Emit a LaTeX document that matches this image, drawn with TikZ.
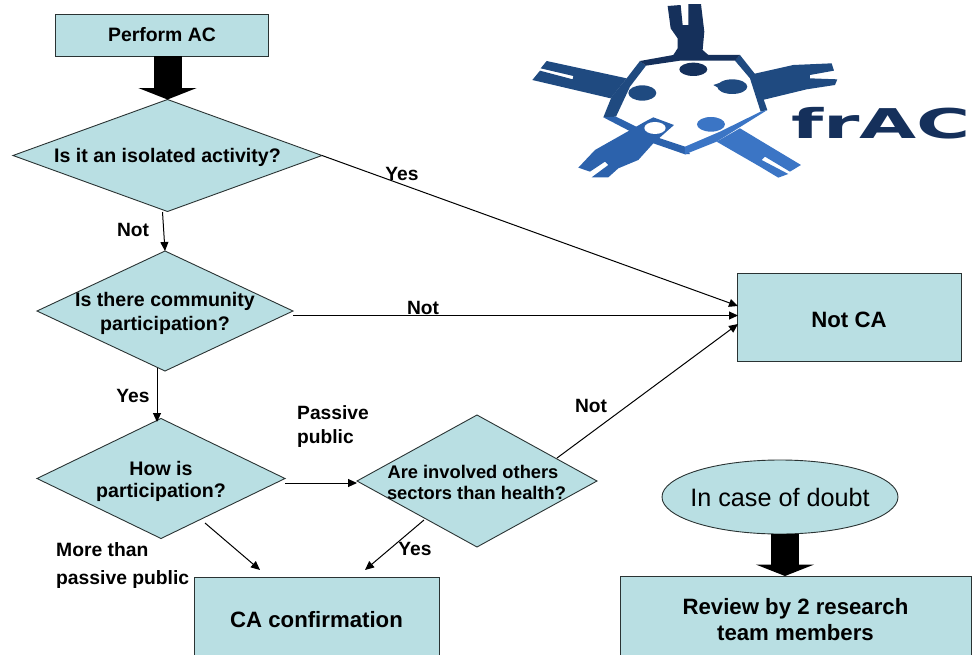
\documentclass[tikz,border=0pt]{standalone}
\usepackage{fontspec}
\setmainfont{Liberation Sans}
\newfontfamily\logofont{DejaVu Sans}
\usetikzlibrary{shapes.geometric,arrows.meta}
\definecolor{boxfill}{HTML}{B9DFE3}
\definecolor{edgecol}{HTML}{2A3333}
\definecolor{logodark}{HTML}{15305B}
\definecolor{logomid}{HTML}{1F4A80}
\definecolor{logoblue}{HTML}{2C62AC}
\definecolor{logolight}{HTML}{3B75C5}
\tikzset{
  x=1pt,y=-1pt,
  flowbox/.style={draw=edgecol,line width=1pt,fill=boxfill,rectangle,inner sep=0pt,outer sep=0pt,align=center,font=\bfseries\fontsize{22.2}{26}\selectfont},
  flowdia/.style={draw=edgecol,line width=.9pt,fill=boxfill,diamond,inner sep=0pt,outer sep=0pt},
  flowell/.style={draw=edgecol,line width=.9pt,fill=boxfill,ellipse,inner sep=0pt,outer sep=0pt},
  diatext/.style={inner sep=0pt,align=center,font=\bfseries\fontsize{#1}{24}\selectfont},
  diatext/.default=19.6,
  lab/.style={inner sep=0pt,align=left,font=\bfseries\fontsize{19.2}{24}\selectfont},
  conn/.style={draw=black,line width=1pt,-{Triangle[length=9pt,width=8pt]}},
  fatarrow/.style={draw=black,line width=28pt,-{Triangle[length=11.5pt,width=58pt]}},
}
\begin{document}
\begin{tikzpicture}
\useasboundingbox (0,0) rectangle (978,654);
\clip (0,0) rectangle (978,654);
% logo
\begin{scope}[xshift=520pt,x=.3333pt,y=-.3333pt]
\fill[logodark] (443,18)--(482,15)--(488,75)--(505,75)--(505,12)--(543,12)--(553,95)--(548,150)--(565,165)--(460,165)--(473,145)--(473,115)--(452,85)--cycle;
\fill[logomid] (80,183)--(320,235)--(272,295)--(37,240)--(60,212)--(158,238)--(160,228)--(62,205)--cycle;
\fill[logomid] (700,222)--(820,195)--(935,190)--(942,212)--(870,225)--(870,235)--(952,238)--(945,255)--(860,268)--(728,300)--cycle;
\fill[logomid] (360,183)--(378,197)--(330,260)--(288,350)--(250,352)--(275,290)--(320,235)--cycle;
\fill[logomid] (660,165)--(705,222)--(742,330)--(722,335)--(690,235)--(645,182)--cycle;
\fill[logodark] (360,183)--(460,165)--(660,165)--(645,182)--(480,182)--(378,197)--cycle;
\fill[logoblue] (250,352)--(288,350)--(420,415)--(495,440)--(510,462)--(495,463)--(400,430)--cycle;
\fill[logolight] (495,440)--(600,395)--(722,335)--(742,330)--(590,425)--(495,463)--cycle;
\fill[logoblue] (375,365)--(400,352)--(462,375)--(400,430)--(355,480)--(295,505)--(265,532)--(215,532)--(265,495)--(255,485)--(210,515)--(175,503)--(225,450)--(340,385)--cycle;
\fill[white] (405,384) ellipse [x radius=32,y radius=18];
\fill[logolight] (590,425)--(660,385)--(843,495)--(810,515)--(735,470)--(725,480)--(805,522)--(775,533)--(720,500)--cycle;
\fill[logodark] (520,208) ellipse [x radius=42,y radius=20];
\fill[logomid] (367,279) ellipse [x radius=42,y radius=23];
\fill[logomid] (637,260) ellipse [x radius=45,y radius=22];
\fill[logomid] (580,255)--(610,245)--(625,280)--cycle;
\fill[logolight] (573,373) ellipse [x radius=42,y radius=22];
\end{scope}
\node[inner sep=0pt,text=logodark,font=\logofont\bfseries\fontsize{41}{41}\selectfont,xscale=1.8,transform shape] (fractext) at (881,123) {frAC};
% nodes
\node[flowbox,minimum width=213,minimum height=42,font=\bfseries\fontsize{19.4}{23}\selectfont] (perform) at (162,35) {Perform AC};
\node[flowdia,minimum width=309,minimum height=112] (d1) at (167.5,155.5) {};
\node[diatext] (d1t) at (167.5,157) {Is it an isolated activity?};
\node[flowdia,minimum width=256,minimum height=120] (d2) at (165,311) {};
\node[diatext] (d2t) at (165,313) {Is there community\\participation?};
\node[flowdia,minimum width=248,minimum height=120] (d3) at (161,478.5) {};
\node[diatext] (d3t) at (161,481) {How is\\[-2pt]participation?};
\node[flowdia,minimum width=240,minimum height=132] (d4) at (477,481) {};
\node[diatext=18.3] (d4t) at (476.5,482) {Are involved others\hspace*{7pt}\\[-3pt]sectors than health?};
\node[flowbox,minimum width=224,minimum height=88] (notca) at (849,317) {\raisebox{-10pt}[0pt][0pt]{Not CA}};
\node[flowbox,minimum width=245,minimum height=86] (caconf) at (316.5,620) {CA confirmation};
\node[flowell,minimum width=236,minimum height=74] (doubt) at (780,497) {};
\node[inner sep=0pt,font=\fontsize{25.2}{30}\selectfont] (doubtt) at (780,497.5) {In case of doubt};
\node[flowbox,minimum width=351,minimum height=88] (review) at (795.5,620) {Review by 2 research\\team members};
% labels
\node[lab] (lyes1) at (402,174) {Yes};
\node[lab] (lnot1) at (133,230) {Not};
\node[lab] (lnot2) at (423,308) {Not};
\node[lab] (lyes2) at (133,396) {Yes};
\node[lab,anchor=west] (lpass) at (297,426.5) {Passive\\public};
\node[lab] (lnot3) at (591,406) {Not};
\node[lab] (lyes3) at (415,549) {Yes};
\node[lab,anchor=west,font=\bfseries\fontsize{19.3}{28}\selectfont] (lmore) at (56,565.5) {More than\\passive public};
% connector ends
\coordinate (a1) at (738,306);
\coordinate (a2) at (738,315.5);
\coordinate (a3) at (738,324);
\coordinate (b1s) at (162.5,212);
\coordinate (b1e) at (165,251);
\coordinate (b2s) at (157,368);
\coordinate (b2e) at (157,422);
\coordinate (b2r) at (293,315.5);
\coordinate (c1s) at (285,483);
\coordinate (c1e) at (357,483);
\coordinate (c2s) at (205,523);
\coordinate (c2e) at (260,570);
\coordinate (c3s) at (424,520);
\coordinate (c3e) at (365,570);
\coordinate (c4s) at (557,458);
\coordinate (fs) at (785,534);
% connectors
\draw[fatarrow] (perform.south -| d1.north) -- (d1.north);
\draw[fatarrow] (fs) -- (review.north -| fs);
\draw[conn] (d1.east) -- (a1);
\draw[conn] (b2r) -- (a2);
\draw[conn] (c4s) -- (a3);
\draw[conn] (b1s) -- (b1e);
\draw[conn] (b2s) -- (b2e);
\draw[conn] (c1s) -- (c1e);
\draw[conn] (c2s) -- (c2e);
\draw[conn] (c3s) -- (c3e);
\end{tikzpicture}
\end{document}
